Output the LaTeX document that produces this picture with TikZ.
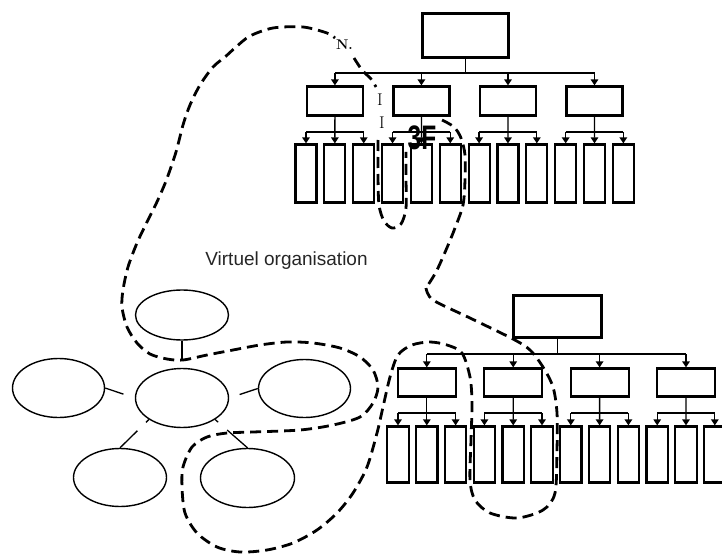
\documentclass[tikz,border=0pt]{standalone}
\usepackage{fontspec}
\usepackage{graphicx}
\usepackage{tikz}
\usetikzlibrary{arrows.meta,positioning,shapes.geometric}
\newfontfamily\labelfont{Liberation Sans}
\tikzset{
  unitbox/.style={draw=black, line width=2.2pt, inner sep=0pt},
  headbox/.style={unitbox, minimum width=86pt, minimum height=44pt},
  deptbox/.style={unitbox, minimum width=56pt, minimum height=29pt},
  cellbox/.style={unitbox, minimum width=21pt, minimum height=58pt},
  link/.style={line width=1.3pt},
  linkarrow/.style={-{Triangle[length=6pt,width=7.5pt]}, line width=1.3pt},
  partner/.style={draw=black, ellipse, line width=1.4pt, minimum width=93pt, minimum height=59pt, inner sep=0pt},
  boundary/.style={line width=2.8pt, dash pattern=on 11pt off 6pt},
  marklbl/.style={inner sep=0pt, font=\fontsize{17}{17}\selectfont}
}

\begin{document}
\begin{tikzpicture}[x=1pt, y=-1pt]
\useasboundingbox (0,0) rectangle (722,556);
% upper hierarchy
\node[headbox] (top) at (465.5,35.5) {};
\coordinate (tbus) at (465.5,73);
\coordinate (tsub) at (465.5,132);
\foreach \d/\x in {1/334.9,2/421.4,3/508,4/594.5} {
  \node[deptbox] (td\d) at (\x,101) {};
}
\foreach \c in {1,...,12} {
  \node[cellbox] (tc\c) at ({306+28.85*(\c-1)},173.5) {};
}
\draw[link] (top.south) -- (tbus);
\draw[link] (td1.north |- tbus) -- (td4.north |- tbus);
\foreach \d in {1,...,4} {
  \draw[linkarrow] (td\d.north |- tbus) -- (td\d.north);
}
\foreach \d/\a/\m/\b in {1/1/2/3,2/4/5/6,3/7/8/9,4/10/11/12} {
  \draw[link] (tc\a.north |- tsub) -- (tc\b.north |- tsub);
  \draw[linkarrow] (td\d.south) -- (tc\m.north);
  \draw[linkarrow] (tc\a.north |- tsub) -- (tc\a.north);
  \draw[linkarrow] (tc\b.north |- tsub) -- (tc\b.north);
}

% lower hierarchy
\node[headbox, minimum width=88pt, minimum height=42pt] (btop) at (557.5,316.5) {};
\coordinate (bbus) at (557.5,354);
\coordinate (bsub) at (557.5,413);
\foreach \d/\x in {1/426.8,2/513.2,3/599.6,4/686} {
  \node[deptbox, minimum width=58pt, minimum height=28pt] (bd\d) at (\x,382.5) {};
}
\foreach \c in {1,...,12} {
  \node[cellbox, minimum width=21.5pt, minimum height=56pt] (bc\c) at ({398+28.8*(\c-1)},454.5) {};
}
\draw[link] (btop.south) -- (bbus);
\draw[link] (bd1.north |- bbus) -- (bd4.north |- bbus);
\foreach \d in {1,...,4} {
  \draw[linkarrow] (bd\d.north |- bbus) -- (bd\d.north);
}
\foreach \d/\a/\m/\b in {1/1/2/3,2/4/5/6,3/7/8/9,4/10/11/12} {
  \draw[link] (bc\a.north |- bsub) -- (bc\b.north |- bsub);
  \draw[linkarrow] (bd\d.south) -- (bc\m.north);
  \draw[linkarrow] (bc\a.north |- bsub) -- (bc\a.north);
  \draw[linkarrow] (bc\b.north |- bsub) -- (bc\b.north);
}

% network of partners
\node[partner, minimum height=50pt] (tp) at (182,315) {};
\node[partner] (core) at (182,398) {};
\node[partner, minimum width=92pt] (le) at (58.5,388) {};
\node[partner, minimum width=92pt, minimum height=58pt] (ri) at (304.5,388.5) {};
\node[partner, minimum height=58pt] (bl) at (120,477.5) {};
\node[partner, minimum width=94pt] (br) at (247.5,478) {};
\draw[link, shorten >=8pt] (tp.south) -- (core.north);
\draw[link, shorten >=12pt] (le.east) -- (core.west);
\draw[link, shorten <=11pt] (core.east) -- (ri.west);
\draw[link, dash pattern=on 4pt off 12pt on 40pt] (core.213) -- (bl.north);
\draw[link, dash pattern=on 4pt off 12pt on 40pt] (core.327) -- (br.north);
\node[font=\labelfont\fontsize{19}{21}\selectfont, text=black!85, anchor=base] (vo) at (286.5,265) {Virtuel organisation};

% marks on the boundary
\node[inner sep=0pt, font=\bfseries\fontsize{14}{14}\selectfont] (nlab) at (344.5,45) {N.};
\node[marklbl] (ione) at (380,100) {I};
\node[marklbl] (itwo) at (382,123) {I};
\node[inner sep=0pt, font=\labelfont\bfseries\fontsize{34}{34}\selectfont] (tf) at (422,137.5) {\scalebox{0.72}[1]{3F}};

% dashed boundary of the virtual organisation
\draw[boundary]
  plot[smooth] coordinates {(354,58) (362,70) (371,79) (376,87)}
  plot[smooth] coordinates {(378,140) (378,175) (379,205) (384,221) (392,228) (401,224) (406,208) (406,178) (406,152)}
  plot[smooth] coordinates {(442,120) (454,127) (461,138) (465,155) (465,180) (463,205) (455,228) (446,250) (436,272) (426,288)}
  plot[smooth] coordinates {(426,288) (433,300) (470,318) (513,339) (530,350) (543,367) (553,387) (557,413)
    (557,450) (555,493) (543,510) (517,518) (490,513) (475,500) (470,480) (471,440) (472,403) (470,377)
    (462,353) (447,345) (430,342) (412,345) (398,355) (390,377) (383,407) (377,433) (367,467) (353,493)
    (337,513) (317,530) (293,543) (267,550) (240,552) (217,547) (197,533) (185,513) (182,487) (183,467)
    (192,447) (207,437) (227,433) (253,432) (300,430) (333,425) (360,417) (373,403) (378,387) (373,370)
    (360,357) (340,348) (313,343) (287,342) (260,345) (233,350) (207,355) (183,360) (167,359) (150,354)
    (137,343) (127,327) (122,307) (123,290) (128,267) (137,243) (147,222) (156,204) (166,181) (176,152)
    (183,125) (190,105) (200,85) (213,67) (225,57) (236,47) (250,36) (273,28) (303,27) (327,33) (335,38)};
\end{tikzpicture}
\end{document}
